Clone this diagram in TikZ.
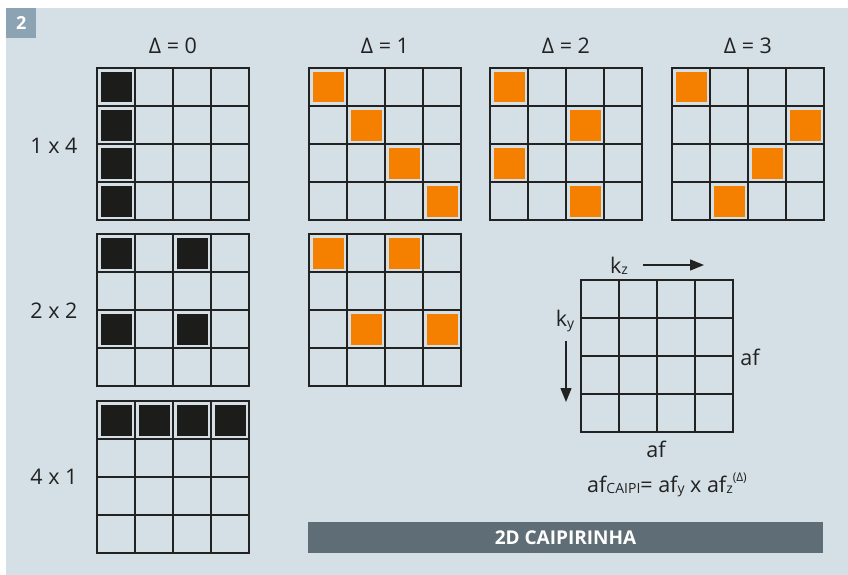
\documentclass[tikz,border=0pt]{standalone}
\usepackage{fontspec}
\setmainfont{Open Sans}
\usetikzlibrary{arrows.meta}
\definecolor{panel}{RGB}{213,224,230}
\definecolor{badgeblue}{RGB}{140,163,179}
\definecolor{bannergray}{RGB}{95,110,118}
\definecolor{cellorange}{RGB}{245,128,0}
\definecolor{cellblack}{RGB}{28,28,26}
\definecolor{inkgray}{RGB}{34,34,34}
\newcommand{\lowidx}[1]{\raisebox{-0.12ex}{\fontsize{14}{16}\selectfont #1}}
\newcommand{\highidx}[1]{\raisebox{0.9ex}{\fontsize{12}{14}\selectfont #1}}
\tikzset{
    gridline/.style={draw=inkgray, line width=1.4pt},
    blackcell/.style={fill=cellblack},
    orangecell/.style={fill=cellorange},
    txt/.style={font=\fontsize{21.5}{24}\selectfont, text=inkgray, inner sep=0pt},
    banner/.style={fill=bannergray, text=white, font=\fontsize{19}{22}\selectfont\bfseries,
        minimum width=515pt, minimum height=31pt, inner sep=0pt},
    badge/.style={fill=badgeblue, text=white, font=\fontsize{18}{20}\selectfont\bfseries,
        minimum size=30pt, inner sep=0pt},
}
\begin{document}
\begin{tikzpicture}[x=1pt, y=-1pt, >={Triangle[length=14pt, width=11pt]}]
    \useasboundingbox (0,0) rectangle (848,575);
    \fill[panel] (6,8) rectangle (848,575);
    \node[badge, anchor=north west] (num) at (6,8) {2};

    % grids: left/top corner, colour, list of filled cells (column/row)
    \foreach \gx/\gy/\kind/\cells in {
        97/68/blackcell/{0/0,0/1,0/2,0/3},
        309/68/orangecell/{0/0,1/1,2/2,3/3},
        490/68/orangecell/{0/0,2/1,0/2,2/3},
        672/68/orangecell/{0/0,3/1,2/2,1/3},
        97/234/blackcell/{0/0,2/0,0/2,2/2},
        309/234/orangecell/{0/0,2/0,1/2,3/2},
        97/401/blackcell/{0/0,1/0,2/0,3/0},
        581/280/blackcell/{}} {
        \begin{scope}[shift={(\gx,\gy)}]
            \foreach \c/\r in \cells {
                \fill[\kind] (\c*38+4,\r*38+4) rectangle ++(30.5,30.5);
            }
            \foreach \i in {1,2,3} {
                \draw[gridline] (\i*38,0) -- (\i*38,152);
                \draw[gridline] (0,\i*38) -- (152,\i*38);
            }
            \draw[gridline] (0,0) rectangle (152,152);
        \end{scope}
    }

    % column and row labels
    \node[txt] (d0) at (173,46) {Δ = 0};
    \node[txt] (d1) at (385,46) {Δ = 1};
    \node[txt] (d2) at (566,46) {Δ = 2};
    \node[txt] (d3) at (748,46) {Δ = 3};
    \node[txt] (r1) at (54,146) {1 x 4};
    \node[txt] (r2) at (54,311) {2 x 2};
    \node[txt] (r3) at (54,477) {4 x 1};

    % legend
    \node[txt] (kz) at (619,266) {k\lowidx{z}};
    \coordinate (kzs) at (643,265);
    \coordinate (kze) at (704,265);
    \draw[->, line width=1.4pt, inkgray] (kzs) -- (kze);
    \node[txt] (ky) at (565,321) {k\lowidx{y}};
    \coordinate (kys) at (566,341);
    \coordinate (kye) at (566,402);
    \draw[->, line width=1.4pt, inkgray] (kys) -- (kye);
    \node[txt] (afr) at (750,357) {af};
    \node[txt] (afb) at (656,449) {af};
    \node[txt] (caipi) at (667,485) {af\lowidx{CAIPI}= af\lowidx{y} x af\lowidx{z}\highidx{(Δ)}};

    \node[banner] (title) at (565.5,537.5) {2D CAIPIRINHA};
\end{tikzpicture}
\end{document}
